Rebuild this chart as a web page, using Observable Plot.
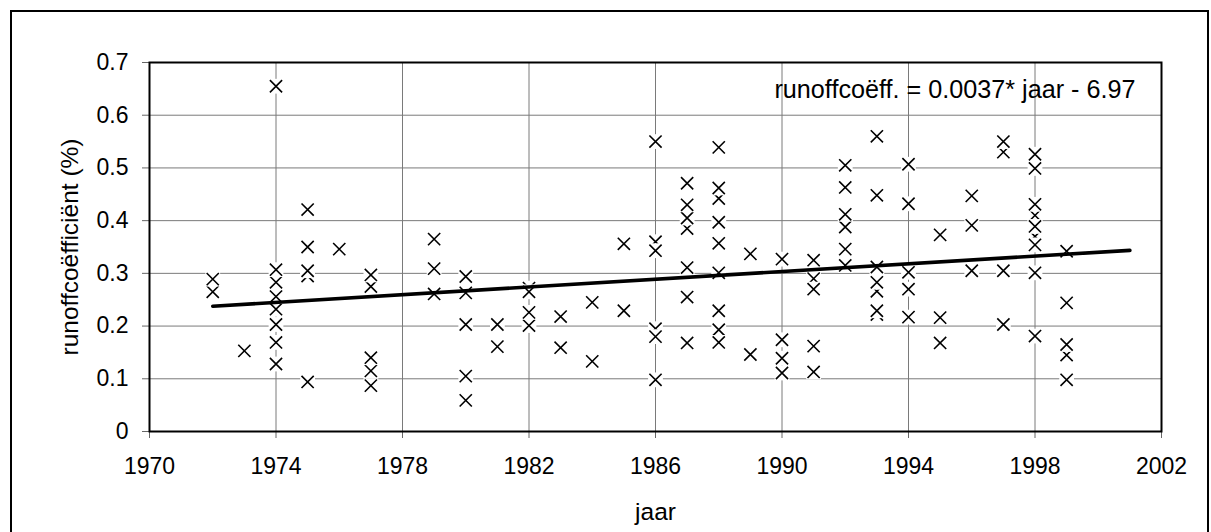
<!DOCTYPE html>
<html>
<head>
<meta charset="utf-8">
<script src="https://cdn.jsdelivr.net/npm/d3@7"></script>
<script src="https://cdn.jsdelivr.net/npm/@observablehq/plot@0.6"></script>
<style>
  html, body { margin: 0; padding: 0; background: #fff; overflow: hidden; }
  #chart { position: relative; width: 1211px; height: 532px; overflow: hidden;
           font-family: "Liberation Sans", Arial, sans-serif; }
  #chart .border { position: absolute; left: 10px; top: 10px; width: 1199px; height: 560px;
                   border: 2px solid #000; box-sizing: border-box; }
  #chart svg { position: absolute; left: 0; top: 0; max-width: none; }
</style>
</head>
<body>
<div id="chart"><div class="border"></div></div>
<script>
// Runoff coefficient per event, listed per year in drawing order
const jaar = [
  1972, 1972,
  1973,
  1974, 1974, 1974, 1974, 1974, 1974, 1974, 1974,
  1975, 1975, 1975, 1975, 1975,
  1976,
  1977, 1977, 1977, 1977, 1977,
  1979, 1979, 1979,
  1980, 1980, 1980, 1980, 1980,
  1981, 1981,
  1982, 1982, 1982, 1982,
  1983, 1983,
  1984, 1984,
  1985, 1985,
  1986, 1986, 1986, 1986, 1986, 1986,
  1987, 1987, 1987, 1987, 1987, 1987, 1987,
  1988, 1988, 1988, 1988, 1988, 1988, 1988, 1988, 1988,
  1989, 1989,
  1990, 1990, 1990, 1990,
  1991, 1991, 1991, 1991, 1991,
  1992, 1992, 1992, 1992, 1992, 1992,
  1993, 1993, 1993, 1993, 1993, 1993, 1993,
  1994, 1994, 1994, 1994, 1994,
  1995, 1995, 1995,
  1996, 1996, 1996,
  1997, 1997, 1997, 1997,
  1998, 1998, 1998, 1998, 1998, 1998, 1998, 1998, 1998,
  1999, 1999, 1999, 1999, 1999
];
const runoff = [
  0.265, 0.289,
  0.153,
  0.655, 0.128, 0.169, 0.203, 0.232, 0.256, 0.283, 0.307,
  0.094, 0.295, 0.305, 0.350, 0.421,
  0.346,
  0.087, 0.115, 0.140, 0.275, 0.297,
  0.261, 0.309, 0.365,
  0.059, 0.105, 0.203, 0.263, 0.294,
  0.161, 0.203,
  0.201, 0.226, 0.272, 0.265,
  0.159, 0.218,
  0.133, 0.245,
  0.229, 0.356,
  0.098, 0.195, 0.180, 0.360, 0.343, 0.550,
  0.168, 0.255, 0.311, 0.385, 0.405, 0.430, 0.471,
  0.193, 0.169, 0.229, 0.301, 0.357, 0.397, 0.442, 0.462, 0.539,
  0.146, 0.337,
  0.111, 0.139, 0.174, 0.327,
  0.113, 0.162, 0.290, 0.270, 0.325,
  0.315, 0.346, 0.388, 0.412, 0.463, 0.505,
  0.222, 0.229, 0.266, 0.283, 0.312, 0.448, 0.560,
  0.217, 0.270, 0.302, 0.432, 0.507,
  0.168, 0.216, 0.373,
  0.305, 0.391, 0.447,
  0.203, 0.305, 0.530, 0.550,
  0.181, 0.301, 0.370, 0.354, 0.410, 0.389, 0.431, 0.499, 0.526,
  0.098, 0.145, 0.165, 0.244, 0.342
];

// Linear trend line and its equation
const trendJaar = [1972, 2001];
const trendSlope = 0.003655;
const trendIntercept = -6.97;
const trendLabel = "runoffcoëff. = 0.0037* jaar - 6.97";

// Axis ticks and titles
const xTicks = [1970, 1974, 1978, 1982, 1986, 1990, 1994, 1998, 2002];
const yTicks = [0, 0.1, 0.2, 0.3, 0.4, 0.5, 0.6, 0.7];
const xTitle = "jaar";
const yTitle = "runoffcoëfficiënt (%)";

const points = jaar.map((j, i) => ({jaar: j, runoff: runoff[i]}));

// Marker: a white box that masks what lies beneath, then a thin cross
const maskBox = {draw(ctx) { const h = 7.4; ctx.rect(-h, -h, 2 * h, 2 * h); }};
const cross = {draw(ctx) {
  const h = 6.1;
  ctx.moveTo(-h, -h); ctx.lineTo(h, h);
  ctx.moveTo(h, -h); ctx.lineTo(-h, h);
}};

const markerMarks = points.flatMap(p => [
  Plot.dot([p], {x: "jaar", y: "runoff", symbol: maskBox, fill: "white", stroke: "none"}),
  Plot.dot([p], {x: "jaar", y: "runoff", symbol: cross, fill: "none", stroke: "black", strokeWidth: 1.6})
]);

const font = "'Liberation Sans', Arial, sans-serif";

const chart = Plot.plot({
  width: 1211,
  height: 532,
  marginLeft: 149,
  marginRight: 50,
  marginTop: 62,
  marginBottom: 101,
  style: {fontFamily: font, fontSize: "23px", color: "black", background: "transparent", overflow: "visible"},
  x: {domain: [1970, 2002]},
  y: {domain: [0, 0.7]},
  marks: [
    Plot.gridX(xTicks, {stroke: "#7a7a7a", strokeOpacity: 1, strokeWidth: 1}),
    Plot.gridY(yTicks, {stroke: "#7a7a7a", strokeOpacity: 1, strokeWidth: 1}),
    Plot.axisX(xTicks, {tickSize: 7, tickPadding: 19, tickFormat: d => String(d), stroke: "#666", fill: "black", fontSize: 23, label: null}),
    Plot.axisY(yTicks, {tickSize: 7, tickPadding: 14, tickFormat: d => d === 0 ? "0" : d.toFixed(1), stroke: "#666", fill: "black", fontSize: 23, label: null}),
    ...markerMarks,
    Plot.line(trendJaar, {x: d => d, y: d => trendSlope * d + trendIntercept, stroke: "black", strokeWidth: 3.6}),
    Plot.frame({stroke: "black", strokeWidth: 2}),
    Plot.text([trendLabel], {text: d => d, frameAnchor: "top-right", textAnchor: "end", lineAnchor: "middle", dx: -26, dy: 27, fontSize: 25.2, fill: "black"}),
    Plot.text([xTitle], {text: d => d, frameAnchor: "bottom", textAnchor: "middle", lineAnchor: "middle", dy: 81, fontSize: 24.5, fill: "black"}),
    Plot.text([yTitle], {text: d => d, frameAnchor: "left", textAnchor: "middle", lineAnchor: "middle", rotate: -90, dx: -79, fontSize: 24.5, fill: "black"})
  ]
});

document.getElementById("chart").appendChild(chart);
</script>
</body>
</html>
